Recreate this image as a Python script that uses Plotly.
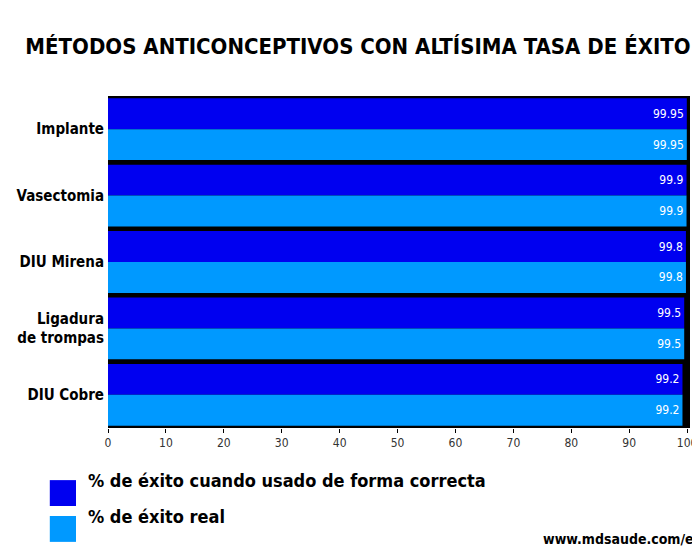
import plotly.graph_objects as go

metodos = ['Implante', 'Vasectomia', 'DIU Mirena', 'Ligadura<br>de trompas', 'DIU Cobre']
exito_correcto = [99.95, 99.9, 99.8, 99.5, 99.2]
exito_real = [99.95, 99.9, 99.8, 99.5, 99.2]
nombres = ['% de éxito cuando usado de forma correcta', '% de éxito real']
colores = ['#0000f0', '#0099ff']

fig = go.Figure()
for vals, nombre, color in zip([exito_correcto, exito_real], nombres, colores):
    fig.add_trace(go.Bar(y=metodos, x=vals, orientation='h', name=nombre,
                         marker_color=color, marker_line_width=0,
                         text=[str(v) for v in vals], textposition='inside',
                         insidetextanchor='end',
                         textfont=dict(color='white', size=12, family='DejaVu Sans Condensed')))

fig.update_layout(
    width=700, height=555, barmode='group', bargap=0.07, bargroupgap=0,
    paper_bgcolor='white', plot_bgcolor='black', showlegend=False,
    margin=dict(l=100, r=18, t=88, b=135, autoexpand=False),
    title=dict(text='<b>MÉTODOS ANTICONCEPTIVOS CON ALTÍSIMA TASA DE ÉXITO</b>',
               x=0.5, xanchor='center', y=0.945,
               font=dict(family='DejaVu Sans Condensed', size=22, color='black')),
)
fig.update_xaxes(range=[0, 100.5], tickvals=list(range(0, 101, 10)), showgrid=False,
                 ticks='outside', ticklen=4, tickcolor='black', zeroline=False, automargin=False,
                 tickfont=dict(family='DejaVu Sans Condensed', size=12, color='#333'))
fig.update_yaxes(autorange='reversed', showgrid=False, ticks='', ticklabelstandoff=3,
                 automargin=False,
                 tickfont=dict(family='DejaVu Sans Condensed', size=15, color='black'))
fig.update_yaxes(ticktext=['<b>' + m + '</b>' for m in metodos], tickvals=metodos)

legend_y = [(-0.157, -0.235), (-0.265, -0.343)]
for (y1, y0), nombre, color in zip(legend_y, nombres, colores):
    fig.add_shape(type='rect', xref='paper', yref='paper',
                  x0=-0.10, x1=-0.055, y0=y0, y1=y1, fillcolor=color, line_width=0)
    fig.add_annotation(xref='paper', yref='paper', x=-0.038, y=(y0 + y1) / 2,
                       text='<b>' + nombre + '</b>', showarrow=False, xanchor='left',
                       font=dict(family='DejaVu Sans Condensed', size=18, color='black'))

fig.add_annotation(xref='paper', yref='paper', x=1.022, y=-0.364, xanchor='right',
                   text='<b>www.mdsaude.com/es</b>', showarrow=False,
                   font=dict(family='DejaVu Sans Condensed', size=14, color='black'))

fig.write_html("out.html")
